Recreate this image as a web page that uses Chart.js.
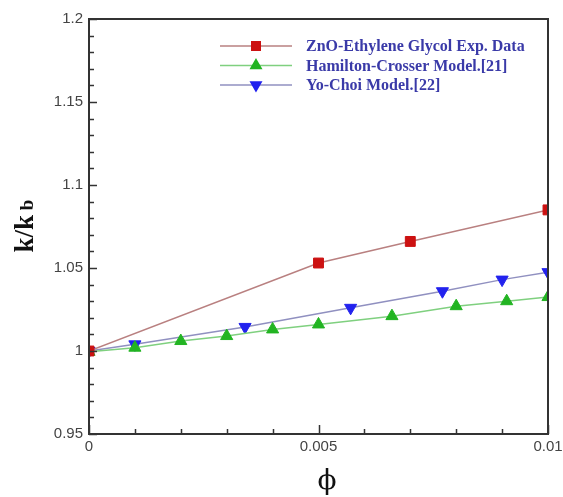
<!DOCTYPE html>
<html>
<head>
<meta charset="utf-8">
<script src="https://cdn.jsdelivr.net/npm/chart.js@4.4.1/dist/chart.umd.min.js"></script>
<style>
  html, body { margin: 0; padding: 0; background: #fff; }
  #wrap { width: 563px; height: 497px; position: relative; }
</style>
</head>
<body>
<div id="wrap"><canvas id="k-chart"></canvas></div>
<script>
// values
var seriesNames = ['ZnO-Ethylene Glycol Exp. Data', 'Hamilton-Crosser Model.[21]', 'Yo-Choi Model.[22]'];

var phiExp = [0, 0.005, 0.007, 0.01];
var kExp   = [1.0, 1.053, 1.066, 1.085];

var phiHC = [0, 0.001, 0.002, 0.003, 0.004, 0.005, 0.0066, 0.008, 0.0091, 0.01];
var kHC   = [0.9995, 1.002, 1.006, 1.009, 1.013, 1.016, 1.021, 1.027, 1.030, 1.0325];

var phiYC = [0, 0.001, 0.0034, 0.0057, 0.0077, 0.009, 0.01];
var kYC   = [1.0, 1.004, 1.0145, 1.026, 1.036, 1.043, 1.0475];

var xTicks = [0, 0.005, 0.01];
var yTicks = [0.95, 1, 1.05, 1.1, 1.15, 1.2];

function pts(xs, ys){
    return xs.map(function(x, i){ return {x: x, y: ys[i]}; });
}

var axisColor = '#333';
var labelColor = '#444';

// inward ticks + closed frame + titles + legend
var framePlugin = {
    id: 'frame',
    afterDraw: function(chart){
        var ctx = chart.ctx;
        var a = chart.chartArea;
        var xs = chart.scales.x, ys = chart.scales.y;
        ctx.save();
        ctx.strokeStyle = axisColor;
        ctx.lineWidth = 1.5;
        // minor / major ticks on x
        for(var i = 0; i <= 10; i++){
            var v = i * 0.001;
            var px = Math.round(xs.getPixelForValue(v)) + 0.5;
            var len = (i % 5 == 0) ? 9 : 5;
            ctx.beginPath();
            ctx.moveTo(px, a.bottom);
            ctx.lineTo(px, a.bottom - len);
            ctx.stroke();
        }
        // minor / major ticks on y
        for(var j = 0; j <= 25; j++){
            var vy = 0.95 + j * 0.01;
            var py = Math.round(ys.getPixelForValue(vy)) + 0.5;
            var ln = (j % 5 == 0) ? 8 : 5;
            ctx.beginPath();
            ctx.moveTo(a.left, py);
            ctx.lineTo(a.left + ln, py);
            ctx.stroke();
        }
        // frame
        ctx.lineWidth = 2;
        ctx.strokeRect(a.left, a.top, a.right - a.left, a.bottom - a.top);

        // x title
        ctx.fillStyle = '#111';
        ctx.font = '28px "DejaVu Serif"';
        ctx.textAlign = 'center';
        ctx.textBaseline = 'middle';
        ctx.fillText('\u03D5', 327, 482);

        // y title k/k_b
        ctx.translate(24, 226);
        ctx.rotate(-Math.PI / 2);
        var main = 'k/k';
        ctx.font = 'bold 27px "Liberation Serif"';
        var w1 = ctx.measureText(main).width;
        ctx.font = 'bold 19px "Liberation Serif"';
        var w2 = ctx.measureText(' b').width;
        var x0 = -(w1 + w2) / 2;
        ctx.textAlign = 'left';
        ctx.textBaseline = 'alphabetic';
        ctx.font = 'bold 27px "Liberation Serif"';
        ctx.fillText(main, x0, 9);
        ctx.font = 'bold 19px "Liberation Serif"';
        ctx.fillText(' b', x0 + w1, 9);
        ctx.restore();

        // legend
        ctx.save();
        chart.data.datasets.forEach(function(ds, k){
            var ly = 46 + k * 19.5;
            ctx.strokeStyle = ds.borderColor;
            ctx.lineWidth = 1.5;
            ctx.beginPath();
            ctx.moveTo(220, ly);
            ctx.lineTo(292, ly);
            ctx.stroke();
            ctx.fillStyle = ds.pointBackgroundColor;
            ctx.strokeStyle = ds.pointBackgroundColor;
            Chart.helpers.drawPoint(ctx, {
                pointStyle: ds.pointStyle,
                rotation: ds.pointRotation || 0,
                radius: 6,
                borderWidth: 1
            }, 256, ly);
            ctx.fillStyle = '#3a3aa8';
            ctx.font = 'bold 16px "Liberation Serif"';
            ctx.textAlign = 'left';
            ctx.textBaseline = 'middle';
            ctx.fillText(ds.label, 306, ly + 1);
        });
        ctx.restore();
    }
};

new Chart(document.getElementById('k-chart'), {
    type: 'scatter',
    data: {
        datasets: [
            {
                label: seriesNames[0],
                data: pts(phiExp, kExp),
                showLine: true,
                borderColor: '#b98080',
                borderWidth: 1.5,
                pointStyle: 'rect',
                pointRadius: 7,
                pointBackgroundColor: '#cc1111',
                pointBorderColor: '#cc1111',
                pointBorderWidth: 1
            },
            {
                label: seriesNames[1],
                data: pts(phiHC, kHC),
                showLine: true,
                borderColor: '#7fd07f',
                borderWidth: 1.5,
                pointStyle: 'triangle',
                pointRadius: 7,
                pointBackgroundColor: '#22b422',
                pointBorderColor: '#22b422',
                pointBorderWidth: 1
            },
            {
                label: seriesNames[2],
                data: pts(phiYC, kYC),
                showLine: true,
                borderColor: '#9090c0',
                borderWidth: 1.5,
                pointStyle: 'triangle',
                pointRotation: 180,
                pointRadius: 7,
                pointBackgroundColor: '#2222ee',
                pointBorderColor: '#2222ee',
                pointBorderWidth: 1
            }
        ]
    },
    options: {
        responsive: true,
        maintainAspectRatio: false,
        animation: false,
        layout: { padding: { left: 0, top: 19, right: 15, bottom: 0 } },
        plugins: {
            legend: { display: false },
            tooltip: { enabled: false }
        },
        scales: {
            x: {
                type: 'linear',
                min: 0, max: 0.01,
                grid: { display: false, drawTicks: false },
                border: { display: false },
                afterFit: function(s){ s.height = 63; s.paddingLeft = 0; s.paddingRight = 0; },
                afterBuildTicks: function(s){ s.ticks = xTicks.map(function(v){ return {value: v}; }); },
                ticks: {
                    padding: 4,
                    color: labelColor,
                    font: { family: '"Liberation Sans"', size: 15 },
                    callback: function(v){ return String(Number(v.toFixed(4))); }
                }
            },
            y: {
                type: 'linear',
                min: 0.95, max: 1.2,
                grid: { display: false, drawTicks: false },
                border: { display: false },
                afterFit: function(s){ s.width = 89; s.paddingTop = 0; s.paddingBottom = 0; },
                afterBuildTicks: function(s){ s.ticks = yTicks.map(function(v){ return {value: v}; }); },
                ticks: {
                    padding: 6,
                    color: labelColor,
                    font: { family: '"Liberation Sans"', size: 15 },
                    callback: function(v){ return String(Number(v.toFixed(3))); }
                }
            }
        }
    },
    plugins: [framePlugin]
});
</script>
</body>
</html>
